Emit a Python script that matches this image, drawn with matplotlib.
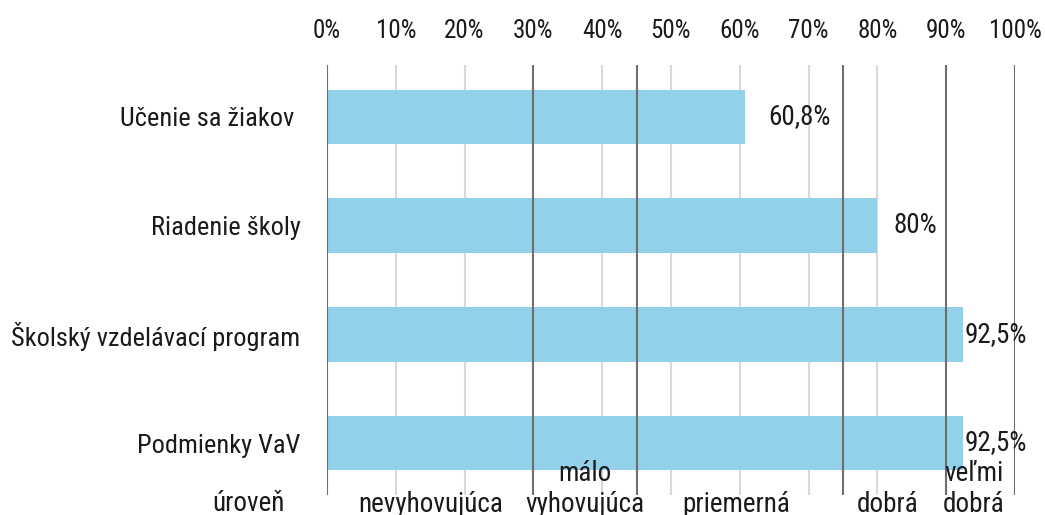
import matplotlib
matplotlib.use('Agg')
import matplotlib.pyplot as plt
from matplotlib.transforms import blended_transform_factory

plt.rcParams['font.family'] = ['Roboto Condensed', 'DejaVu Sans']

# data
categories = ['Učenie sa žiakov ', 'Riadenie školy', 'Školský vzdelávací program', 'Podmienky VaV']
values = [60.8, 80, 92.5, 92.5]
value_labels = ['60,8%', '80%', '92,5%', '92,5%']
label_offsets = [23, 16, 1, 1]  # pixels right of bar end
xticks = [0, 10, 20, 30, 40, 50, 60, 70, 80, 90, 100]
xtick_labels = ['0%', '10%', '20%', '30%', '40%', '50%', '60%', '70%', '80%', '90%', '100%']
bounds = [0, 30, 45, 75, 90, 100]  # level boundaries (dark lines)
level_names = ['nevyhovujúca', 'málo\nvyhovujúca', 'priemerná', 'dobrá', 'veľmi\ndobrá']
level_pos = [15, 37.5, 59.5, 81.5, 94]

fs = 19.5
fig = plt.figure(figsize=(10.45, 5.15), dpi=100)
ax = fig.add_axes([327/1045, 1 - 495/515, 688/1045, 430/515])

y = list(range(len(categories)))
ax.barh(y, values, height=0.5, color='#93d1eb', zorder=2)

# light grid behind, dark level lines on top
for x in xticks:
    if x not in bounds:
        ax.axvline(x, color='#d9d9d9', lw=1.5, zorder=1)
for x in bounds:
    ax.axvline(x, color='#6e6e6e', lw=1.5, zorder=3)

for i, (v, lab, off) in enumerate(zip(values, value_labels, label_offsets)):
    ax.annotate(lab, xy=(v, i), xytext=(off, 0), textcoords='offset pixels',
                ha='left', va='center', fontsize=fs, color='#1a1a1a', zorder=4)

ax.set_xlim(0, 100)
ax.set_ylim(3.478, -0.478)
ax.xaxis.tick_top()
ax.set_xticks(xticks)
ax.set_xticklabels(xtick_labels)
ax.set_yticks(y)
ax.set_yticklabels(categories)
ax.tick_params(axis='x', length=0, pad=16, labelsize=18, labelcolor='#1a1a1a')
ax.tick_params(axis='y', length=0, pad=19, labelsize=19, labelcolor='#1a1a1a')
for s in ax.spines.values():
    s.set_visible(False)

# level names under the chart, last line baseline near the bottom edge (cut off as in the original)
tr = blended_transform_factory(ax.transData, fig.transFigure)
for name, xp in zip(level_names, level_pos):
    lines = name.split('\n')[::-1]
    for k, line in enumerate(lines):
        ax.text(xp, (515 - 512 + 31 * k) / 515, line, transform=tr, ha='center',
                va='baseline', fontsize=fs, color='#1a1a1a', clip_on=False)
fig.text(248 / 1045, 4 / 515, 'úroveň', ha='center', va='baseline', fontsize=fs, color='#1a1a1a')

fig.savefig('out.png', dpi=100)
